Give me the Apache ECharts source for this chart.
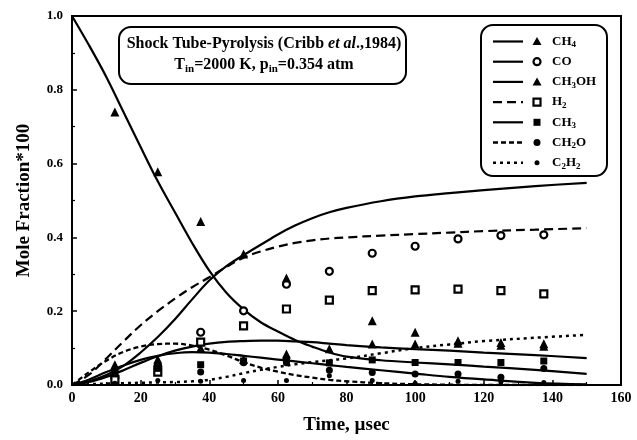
<!DOCTYPE html>
<html><head><meta charset="utf-8">
<script src="https://cdn.jsdelivr.net/npm/echarts@6/dist/echarts.min.js"></script>
<style>html,body{margin:0;padding:0;background:#fff}#c{width:637px;height:440px}</style>
</head><body><div id="c"></div>
<script>
// model curve time grid (µsec)
const curveT = [0,5,10,15,20,25,30,35,40,45,50,55,60,65,70,75,80,90,100,110,120,135,150];
// model curves (mole fraction*100)
const curveCH4   = [0,0.008,0.022,0.04,0.06,0.078,0.093,0.104,0.112,0.117,0.119,0.12,0.12,0.118,0.116,0.112,0.108,0.102,0.097,0.093,0.088,0.081,0.073];
const curveCO    = [0,0.01,0.027,0.052,0.088,0.13,0.178,0.232,0.283,0.322,0.352,0.38,0.408,0.432,0.452,0.468,0.48,0.498,0.511,0.52,0.528,0.539,0.548];
const curveCH3OH = [1.0,0.92,0.835,0.74,0.645,0.552,0.468,0.385,0.31,0.25,0.205,0.17,0.145,0.122,0.104,0.088,0.077,0.067,0.061,0.056,0.05,0.041,0.03];
const curveH2    = [0,0.028,0.072,0.118,0.162,0.2,0.234,0.265,0.292,0.32,0.345,0.362,0.375,0.385,0.392,0.397,0.4,0.405,0.409,0.413,0.417,0.421,0.425];
const curveCH3   = [0,0.015,0.035,0.053,0.068,0.079,0.086,0.089,0.088,0.084,0.079,0.074,0.069,0.064,0.059,0.054,0.049,0.04,0.031,0.022,0.015,0.006,0.002];
const curveCH2O  = [0,0.035,0.066,0.09,0.104,0.111,0.112,0.107,0.096,0.08,0.062,0.047,0.036,0.027,0.02,0.014,0.01,0.005,0.002,0.001,0,0,0];
const curveC2H2  = [0,0.002,0.004,0.005,0.006,0.007,0.008,0.01,0.014,0.022,0.032,0.041,0.049,0.056,0.062,0.067,0.072,0.086,0.1,0.11,0.119,0.128,0.136];
// experimental points
const markerT  = [12.5,25,37.5,50,62.5,75,87.5,100,112.5,125,137.5];
const ptsCH4   = [0.055,0.07,0.1,0.07,0.084,0.098,0.111,0.111,0.113,0.108,0.105];
const ptsCO    = [0.02,0.05,0.143,0.201,0.273,0.308,0.357,0.376,0.396,0.405,0.407];
const ptsCH3OH = [0.74,0.578,0.443,0.355,0.29,null,0.174,0.143,0.12,0.115,0.112];
const ptsH2    = [0.015,0.035,0.116,0.16,0.206,0.23,0.256,0.258,0.26,0.256,0.247];
const ptsCH3   = [0.03,0.045,0.055,0.065,0.068,0.06,0.068,0.061,0.061,0.061,0.065];
const ptsCH2O  = [0.04,0.055,0.035,0.06,0.06,0.04,0.034,0.03,0.03,0.021,0.045];
const ptsC2H2  = [0.005,0.012,0.01,0.012,0.012,0.025,0.012,0.005,0.01,0.008,0.007];
// tick labels / texts
const xTicks = [0,20,40,60,80,100,120,140,160];
const yTicks = [0,0.2,0.4,0.6,0.8,1.0];
const legendLabels = ['CH{s|4}','CO','CH{s|3}OH','H{s|2}','CH{s|3}','CH{s|2}O','C{s|2}H{s|2}'];
const titleLine1 = 'Shock Tube-Pyrolysis (Cribb {i|et al}.,1984)';
const titleLine2 = 'T{s|in}=2000 K, p{s|in}=0.354 atm';

const FF = '"Liberation Serif","DejaVu Serif",serif';
const pair = (xs, ys) => xs.map((x, i) => [x, ys[i]]).filter(p => p[1] !== null);

const lineDefs = [
  {name:'CH4', data:curveCH4, type:'solid', w:2.2},
  {name:'CO', data:curveCO, type:'solid', w:2.2},
  {name:'CH3OH', data:curveCH3OH, type:'solid', w:2.2},
  {name:'H2', data:curveH2, type:[9,5], w:2.2},
  {name:'CH3', data:curveCH3, type:'solid', w:2.2},
  {name:'CH2O', data:curveCH2O, type:[5,3], w:2.3},
  {name:'C2H2', data:curveC2H2, type:[3,4], w:2.5}
];
const ptDefs = [
  {data:ptsCH4, symbol:'triangle', size:9, empty:false},
  {data:ptsCO, symbol:'circle', size:7, empty:true},
  {data:ptsCH3OH, symbol:'triangle', size:9, empty:false},
  {data:ptsH2, symbol:'rect', size:7, empty:true},
  {data:ptsCH3, symbol:'rect', size:7, empty:false},
  {data:ptsCH2O, symbol:'circle', size:7, empty:false},
  {data:ptsC2H2, symbol:'circle', size:5, empty:false}
];

const series = [];
lineDefs.forEach(d => series.push({
  type:'line', name:d.name, data:pair(curveT, d.data), smooth:0.35, showSymbol:false,
  lineStyle:{color:'#000', width:d.w, type:d.type, opacity:1}, z:2, silent:true
}));
ptDefs.forEach(d => series.push({
  type:'scatter', data:pair(markerT, d.data), symbol:d.symbol, symbolSize:d.size,
  itemStyle: d.empty ? {color:'#fff', borderColor:'#000', borderWidth:2.2, opacity:1} : {color:'#000', opacity:1}, z:3, silent:true
}));

const subStyle = (fs, lh) => ({fontWeight:'bold', fontSize:fs, fontFamily:FF, lineHeight:lh, verticalAlign:'bottom'});

// legend graphic
const lg = {x:481, y:25, w:126, h:151, row0:41.5, dy:20.2};
const graphic = [
  {type:'rect', shape:{x:lg.x, y:lg.y, width:lg.w, height:lg.h, r:12}, style:{fill:'#fff', stroke:'#000', lineWidth:2}, z:10},
  {type:'rect', shape:{x:119, y:27, width:287, height:57, r:12}, style:{fill:'#fff', stroke:'#000', lineWidth:2}, z:10},
  {type:'text', x:264, y:44, z:11, style:{text:titleLine1, align:'center', verticalAlign:'middle', fill:'#000',
    font:'bold 16px '+FF,
    rich:{i:{fontStyle:'italic', fontWeight:'bold', fontSize:16, fontFamily:FF}}}},
  {type:'text', x:264, y:65, z:11, style:{text:titleLine2, align:'center', verticalAlign:'middle', fill:'#000',
    font:'bold 16px '+FF, lineHeight:20,
    rich:{s:subStyle(11, 9)}}}
];
lineDefs.forEach((d, i) => {
  const yy = lg.row0 + i*lg.dy;
  graphic.push({type:'line', z:11, shape:{x1:493, y1:yy, x2:523, y2:yy}, style:{stroke:'#000', lineWidth:d.w, lineDash: d.type==='solid'?null:d.type}});
  const p = ptDefs[i];
  const mx = 537;
  let m;
  if (p.symbol==='triangle') m = {type:'polygon', shape:{points:[[mx,yy-4.5],[mx+4.5,yy+3.5],[mx-4.5,yy+3.5]]}, style:{fill:'#000'}};
  else if (p.symbol==='rect') m = {type:'rect', shape:{x:mx-p.size/2, y:yy-p.size/2, width:p.size, height:p.size}, style: p.empty?{fill:'#fff', stroke:'#000', lineWidth:2.2}:{fill:'#000'}};
  else m = {type:'circle', shape:{cx:mx, cy:yy, r:p.size/2}, style: p.empty?{fill:'#fff', stroke:'#000', lineWidth:2.2}:{fill:'#000'}};
  m.z = 11; graphic.push(m);
  graphic.push({type:'text', x:552, y:yy, z:11, style:{text:legendLabels[i], align:'left', verticalAlign:'middle', fill:'#000',
    font:'bold 13px '+FF, lineHeight:16,
    rich:{s:subStyle(9, 8)}}});
});

const chart = echarts.init(document.getElementById('c'));
chart.setOption({
  animation:false,
  backgroundColor:'#fff',
  grid:{left:72, right:16, top:16, bottom:54, show:true, borderColor:'#000', borderWidth:2, backgroundColor:'transparent'},
  xAxis:{type:'value', min:xTicks[0], max:xTicks[xTicks.length-1], interval:20,
    name:'Time, µsec', nameLocation:'middle', nameGap:31,
    nameTextStyle:{fontFamily:FF, fontWeight:'bold', fontSize:19, color:'#000'},
    axisLine:{lineStyle:{color:'#000', width:2}},
    axisTick:{inside:true, length:5, lineStyle:{color:'#000', width:1.5}},
    minorTick:{show:true, splitNumber:2, length:3, lineStyle:{color:'#000', width:1.2}},
    splitLine:{show:false},
    axisLabel:{fontFamily:FF, fontWeight:'bold', fontSize:14, color:'#000', margin:6}},
  yAxis:{type:'value', min:yTicks[0], max:yTicks[yTicks.length-1], interval:0.2,
    name:'Mole Fraction*100', nameLocation:'middle', nameGap:38,
    nameTextStyle:{fontFamily:FF, fontWeight:'bold', fontSize:19, color:'#000'},
    axisLine:{lineStyle:{color:'#000', width:2}},
    axisTick:{inside:true, length:5, lineStyle:{color:'#000', width:1.5}},
    minorTick:{show:true, splitNumber:2, length:3, lineStyle:{color:'#000', width:1.2}},
    splitLine:{show:false},
    axisLabel:{fontFamily:FF, fontWeight:'bold', fontSize:13, color:'#000', margin:9, formatter:v=>v.toFixed(1)}},
  series:series,
  graphic:graphic
});
</script>
</body></html>
